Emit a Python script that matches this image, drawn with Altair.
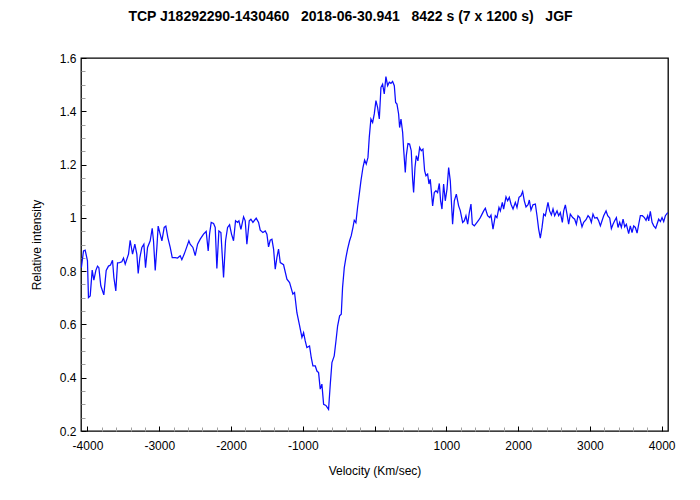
import altair as alt
import pandas as pd

velocity = [
    -4085, -4055, -4032, -4000, -3986, -3962, -3934, -3911, -3883, -3860, -3841, -3814, -3772, -3739, -3707,
    -3679, -3651, -3632, -3605, -3581, -3553, -3521, -3498, -3474, -3428, -3405, -3372, -3340, -3312, -3293,
    -3270, -3242, -3214, -3191, -3163, -3126, -3098, -3080, -3056, -3033, -3015, -2987, -2963, -2931, -2908,
    -2880, -2847, -2819, -2778, -2745, -2708, -2685, -2652, -2615, -2587, -2569, -2531, -2499, -2466, -2429,
    -2383, -2346, -2318, -2299, -2276, -2243, -2220, -2197, -2169, -2141, -2104, -2076, -2048, -2020, -1993,
    -1965, -1937, -1909, -1890, -1862, -1825, -1802, -1779,
    -1746, -1723, -1695, -1649, -1616, -1593, -1556, -1523, -1500, -1477, -1454, -1430, -1407, -1384, -1361,
    -1338, -1314,
    -1268, -1221, -1184, -1138, -1115, -1082, -1049, -1012, -989, -966, -943, -906, -882, -859, -826,
    -803, -780, -757, -734, -710, -678, -641, -617, -594, -562, -538, -515, -487, -464, -446,
    -422, -399, -376, -348, -325, -301, -283, -260, -237, -213, -190, -162, -139, -116, -92,
    -74, -51, -27, -4, 19, 42, 66, 89, 112, 135, 158, 182, 205, 228, 251,
    275, 293, 312, 335, 349, 368, 391, 405, 428, 442, 465, 488, 511, 530, 544,
    563, 581, 604, 628, 651, 674, 697, 716, 739, 758, 776, 809, 832, 855, 878,
    902, 920, 939, 962, 985, 1009, 1032, 1055, 1087, 1111, 1139, 1171, 1194, 1227, 1250,
    1273, 1297, 1320, 1343, 1362, 1390, 1427, 1450,
    1473, 1520, 1543, 1575, 1603, 1622, 1650, 1682, 1705, 1733, 1752, 1780, 1798, 1831, 1854,
    1877, 1901, 1929, 1961, 1984, 2012, 2040, 2063, 2086, 2110, 2138, 2156, 2179, 2207, 2240,
    2263, 2286, 2309, 2333, 2356, 2379, 2416, 2439, 2463, 2486, 2509, 2542, 2565, 2588, 2616,
    2635, 2658, 2681, 2704, 2727, 2760, 2788, 2811, 2834, 2858, 2890, 2913, 2946, 2974, 2997,
    3020, 3043, 3067, 3099, 3122, 3146, 3169, 3192, 3225, 3248, 3276, 3299, 3322, 3345, 3369,
    3392, 3415, 3438, 3462, 3485, 3508, 3540, 3563, 3587, 3610, 3633, 3657, 3680, 3703, 3731,
    3759, 3782, 3805, 3819, 3842, 3866, 3889, 3917, 3935, 3958, 3982, 4005, 4028, 4051, 4084,
]

intensity = [
    0.813, 0.876, 0.879, 0.839, 0.701, 0.707, 0.804, 0.766, 0.803, 0.819, 0.813, 0.745, 0.711, 0.803, 0.819,
    0.823, 0.841, 0.776, 0.726, 0.831, 0.832, 0.835, 0.849, 0.826, 0.864, 0.916, 0.864, 0.901, 0.864, 0.791,
    0.851, 0.889, 0.901, 0.813, 0.889, 0.914, 0.961, 0.914, 0.803, 0.889, 0.969, 0.939, 0.914, 0.964, 0.969,
    0.926, 0.889, 0.851, 0.851, 0.849, 0.858, 0.843, 0.864, 0.892, 0.914, 0.901, 0.889, 0.858, 0.901, 0.920,
    0.939, 0.949, 0.876, 0.939, 0.983, 0.979, 0.964, 0.810, 0.951, 0.945, 0.776, 0.914, 0.964, 0.974, 0.939,
    0.914, 0.989, 0.983, 0.989, 0.957, 1.004, 0.989, 0.901,
    0.989, 0.995, 0.983, 0.999, 0.983, 0.954, 0.945, 0.951, 0.939, 0.891, 0.916, 0.920, 0.883, 0.807, 0.851,
    0.883, 0.832,
    0.824, 0.770, 0.757, 0.714, 0.720, 0.644, 0.601, 0.551, 0.569, 0.538, 0.513, 0.519, 0.475, 0.444, 0.444,
    0.425, 0.419, 0.357, 0.376, 0.300, 0.296, 0.281, 0.376, 0.457, 0.482, 0.538, 0.594, 0.632, 0.638, 0.738,
    0.813, 0.851, 0.883, 0.914, 0.933, 0.964, 0.991, 0.982, 1.039, 1.089, 1.139, 1.189, 1.217, 1.202, 1.227,
    1.302, 1.371, 1.358, 1.390, 1.440, 1.415, 1.371, 1.490, 1.502, 1.465, 1.530, 1.496, 1.509, 1.505, 1.512,
    1.496, 1.433, 1.427, 1.390, 1.339, 1.371, 1.321, 1.258, 1.170, 1.233, 1.279, 1.277, 1.252, 1.145, 1.095,
    1.189, 1.233, 1.214, 1.264, 1.252, 1.258, 1.177, 1.158, 1.164, 1.127, 1.145, 1.045, 1.095, 1.102, 1.095,
    1.129, 1.064, 1.033, 1.127, 1.064, 1.108, 1.189, 1.139, 0.976, 1.064, 1.089, 1.045, 1.027, 0.983, 0.989,
    1.008, 0.976, 1.020, 1.052, 0.976, 0.970, 0.983, 0.991,
    1.001, 1.026, 1.036, 1.008, 1.001, 1.010, 0.958, 1.008, 1.001, 1.039, 1.026, 1.058, 1.033, 1.079, 1.064,
    1.077, 1.051, 1.033, 1.058, 1.039, 1.077, 1.083, 1.099, 1.064, 1.041, 1.049, 1.067, 1.029, 1.049, 1.052,
    1.008, 0.958, 0.924, 0.964, 1.014, 1.008, 1.058, 1.026, 1.011, 1.033, 1.008, 1.026, 1.008, 1.020, 0.983,
    1.026, 1.049, 1.014, 0.976, 1.014, 1.001, 0.995, 0.976, 1.008, 1.001, 0.966, 0.983, 0.993, 1.008, 1.001,
    0.983, 1.014, 0.999, 1.001, 0.989, 0.970, 0.989, 1.008, 1.026, 1.008, 0.999, 0.960, 0.976, 0.989, 1.001,
    0.964, 0.983, 0.964, 0.995, 0.966, 0.976, 0.941, 0.970, 0.945, 0.970, 0.964, 0.943, 0.976, 1.008, 1.008,
    1.001, 0.991, 1.008, 0.989, 1.024, 0.983, 0.970, 0.961, 0.976, 0.995, 0.986, 1.001, 0.986, 1.008, 1.020,
]

x_major = [-4000, -3000, -2000, -1000, 0, 1000, 2000, 3000, 4000]
x_minor = [v for v in range(-4000, 4001, 200) if v % 1000 != 0]
y_major = [0.2, 0.4, 0.6, 0.8, 1.0, 1.2, 1.4, 1.6]
y_minor = [round(0.2 + 0.05 * i, 2) for i in range(29) if i % 4 != 0]

title_text = "TCP J18292290-1430460\u00a0\u00a0\u00a02018-06-30.941\u00a0\u00a0\u00a08422 s (7 x 1200 s)\u00a0\u00a0\u00a0JGF"

W, H = 587, 373
FONT = "Liberation Sans"

df = pd.DataFrame({"v": velocity, "I": intensity})

xscale = alt.Scale(domain=[-4090, 4088], nice=False, zero=False)
yscale = alt.Scale(domain=[0.2, 1.6], nice=False, zero=False)

base = alt.Chart(df)

line = base.mark_line(color="#0c0cff", strokeWidth=1.25, clip=True).encode(
    x=alt.X("v:Q", scale=xscale,
            axis=alt.Axis(orient="bottom", values=x_major, tickSize=0, labelPadding=9,
                          labelExpr="datum.value == 0 ? '' : '' + datum.value",
                          domain=False, grid=False, labelFont=FONT, labelFontSize=12,
                          labelColor="#000000", title="Velocity (Km/sec)", titleFont=FONT,
                          titleFontSize=12, titleFontWeight="normal", titleColor="#000000",
                          titleY=39, titleBaseline="middle")),
    y=alt.Y("I:Q", scale=yscale,
            axis=alt.Axis(orient="left", values=y_major, tickSize=0, labelPadding=5,
                          format="~g", domain=False, grid=False, labelFont=FONT,
                          labelFontSize=12, labelColor="#000000", title="Relative intensity",
                          titleFont=FONT, titleFontSize=12, titleFontWeight="normal",
                          titleColor="#000000", titleX=-45, titleY=H / 2,
                          titleBaseline="middle")),
)

major_ticks = base.mark_point(opacity=0).encode(
    x=alt.X("v:Q", scale=xscale,
            axis=alt.Axis(orient="top", offset=-H, values=x_major, tickSize=5, tickColor="#000000",
                          labels=False, domain=False, grid=False, title="")),
    y=alt.Y("I:Q", scale=yscale,
            axis=alt.Axis(orient="right", offset=-W, values=y_major, tickSize=5, tickColor="#000000",
                          labels=False, domain=False, grid=False, title="")),
)

minor_ticks = base.mark_point(opacity=0).encode(
    x=alt.X("v:Q", scale=xscale,
            axis=alt.Axis(orient="top", offset=-H, values=x_minor, tickSize=4, tickColor="#a0a0a0",
                          labels=False, domain=False, grid=False, title="")),
    y=alt.Y("I:Q", scale=yscale,
            axis=alt.Axis(orient="right", offset=-W, values=y_minor, tickSize=4, tickColor="#a0a0a0",
                          labels=False, domain=False, grid=False, title="")),
)

chart = alt.layer(line, major_ticks, minor_ticks).resolve_axis(
    x="independent", y="independent"
).properties(
    width=W,
    height=H,
    autosize=alt.AutoSizeParams(type="none"),
    padding={"left": 73, "top": 50, "right": 24, "bottom": 61},
    title=alt.TitleParams(text=title_text, font=FONT, fontSize=14, fontWeight="bold",
                          color="#000000", anchor="middle", dx=-24, offset=28),
    background="white",
).configure_view(
    stroke="#000000", strokeWidth=1.3
)

chart.save("out.html", embed_options={"renderer": "svg", "actions": False})
